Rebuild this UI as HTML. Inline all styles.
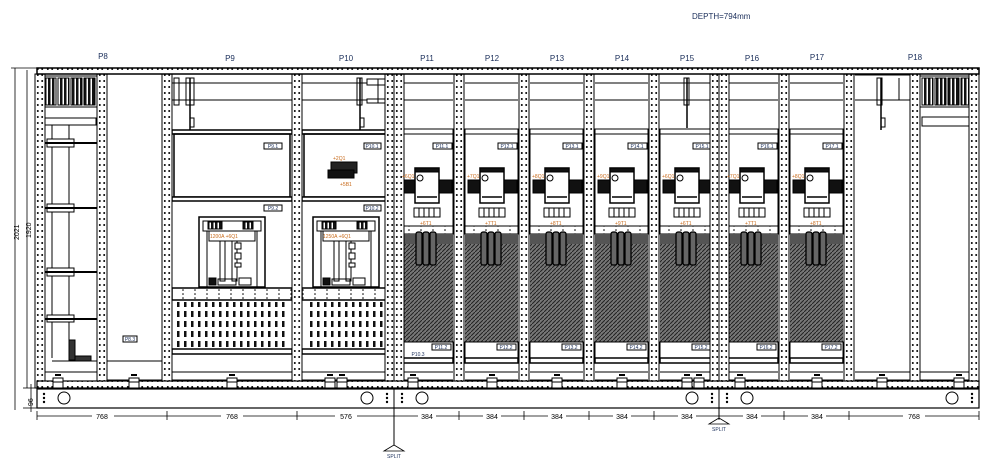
<!DOCTYPE html>
<html><head><meta charset="utf-8"><style>
html,body{margin:0;padding:0;background:#fff;width:991px;height:469px;overflow:hidden}
svg{display:block}
text{font-family:"Liberation Sans",sans-serif}
.lb{font-size:8px;fill:#1a2e5a}
.sm{font-size:5px;fill:#1a2e5a}
.or{font-size:5px;fill:#c86a1a}
</style></head><body>
<svg width="991" height="469" viewBox="0 0 991 469" xmlns="http://www.w3.org/2000/svg">
<defs>
<pattern id="pd" width="10" height="6" patternUnits="userSpaceOnUse"><rect width="10" height="6" fill="#fff"/><circle cx="2.2" cy="3" r="1" fill="#000"/><circle cx="7.8" cy="3" r="1" fill="#000"/></pattern>
<pattern id="hd" width="4" height="4" patternUnits="userSpaceOnUse"><rect width="4" height="4" fill="#777"/><path d="M0 4L4 0" stroke="#222" stroke-width="1"/></pattern>
<pattern id="fan" width="4" height="4" patternUnits="userSpaceOnUse"><rect width="4" height="4" fill="#fff"/><rect width="2.5" height="4" fill="#111"/></pattern>
<pattern id="perf" width="7" height="10" patternUnits="userSpaceOnUse"><rect width="7" height="10" fill="#fff"/><rect x="2" y="1" width="2.5" height="6" fill="#111"/></pattern>
<pattern id="tb" width="12" height="4" patternUnits="userSpaceOnUse"><rect width="12" height="4" fill="#fff"/><circle cx="3" cy="2" r="0.8" fill="#000"/></pattern>
<g id="post"><rect x="-5" y="74" width="10" height="314" fill="url(#pd)" stroke="#000" stroke-width="1"/></g>
<g id="foot"><rect x="-5" y="378" width="10" height="10" fill="#fff" stroke="#000"/><line x1="-5" y1="382" x2="5" y2="382" stroke="#000"/><rect x="-3" y="374" width="6" height="2" fill="#000"/></g>
<g id="sec" fill="none" stroke="#000" stroke-width="1">
<line x1="6" y1="83" x2="59" y2="83"/><line x1="6" y1="100" x2="59" y2="100"/>
<rect x="6" y="129" width="53" height="5" fill="#fff"/>
<rect x="6" y="134" width="53" height="92"/>
<rect x="39" y="143" width="19" height="6" fill="#fff"/>
<rect x="9" y="180" width="12" height="13" fill="#111"/><rect x="45" y="180" width="13" height="13" fill="#111"/>
<rect x="21" y="168" width="24" height="35" fill="#fff" stroke-width="1.5"/>
<rect x="21" y="168" width="24" height="4" fill="#111"/>
<circle cx="26" cy="178" r="3" fill="#fff"/>
<line x1="23" y1="197" x2="43" y2="197" stroke-width="1.5"/>
<rect x="20" y="208" width="26" height="9" fill="#fff"/>
<line x1="25" y1="208" x2="25" y2="217"/><line x1="30" y1="208" x2="30" y2="217"/><line x1="35" y1="208" x2="35" y2="217"/><line x1="40" y1="208" x2="40" y2="217"/>
<rect x="6" y="226" width="53" height="8" fill="url(#tb)"/>
<rect x="6" y="234" width="53" height="108" fill="url(#hd)" stroke="none"/>
<rect x="6" y="234" width="53" height="10" fill="#555" stroke="none"/>
<rect x="22" y="232" width="6" height="33" rx="2" fill="#666" stroke-width="1.3"/>
<rect x="29" y="232" width="6" height="33" rx="2" fill="#666" stroke-width="1.3"/>
<rect x="36" y="232" width="6" height="33" rx="2" fill="#666" stroke-width="1.3"/>
<rect x="6" y="342" width="53" height="16" fill="#fff"/>
<rect x="38" y="344" width="19" height="6" fill="#fff"/>
<rect x="6" y="358" width="53" height="5" fill="#fff" stroke-width="1.5"/>
<line x1="6" y1="372" x2="59" y2="372"/><line x1="6" y1="380" x2="59" y2="380"/>
</g>
<g id="brk" fill="none" stroke="#000">
<rect x="0" y="0" width="66" height="70" fill="#fff" stroke-width="1.5"/>
<rect x="4" y="4" width="58" height="10" fill="#fff"/>
<rect x="9" y="5" width="14" height="7" fill="url(#fan)"/><rect x="44" y="5" width="10" height="7" fill="url(#fan)"/>
<rect x="10" y="14" width="46" height="10" fill="#fff"/>
<line x1="8" y1="14" x2="8" y2="70"/><line x1="58" y1="14" x2="58" y2="70"/>
<rect x="21" y="24" width="5" height="40"/><rect x="33" y="24" width="5" height="40"/>
<rect x="36" y="26" width="6" height="6" fill="#fff"/><rect x="36" y="36" width="6" height="6" fill="#fff"/><rect x="36" y="46" width="6" height="4" fill="#fff"/>
<rect x="10" y="61" width="7" height="7" fill="#111"/><rect x="19" y="62" width="18" height="6"/><rect x="40" y="61" width="12" height="7" fill="#fff"/>
</g>
</defs>

<text x="692" y="19" style="font-size:8px;fill:#1a2e5a">DEPTH=794mm</text>
<g class="lb" text-anchor="middle">
<text x="103" y="59">P8</text><text x="230" y="61">P9</text><text x="346" y="61">P10</text>
<text x="427" y="61">P11</text><text x="492" y="61">P12</text><text x="557" y="61">P13</text>
<text x="622" y="61">P14</text><text x="687" y="61">P15</text><text x="752" y="61">P16</text>
<text x="817" y="60">P17</text><text x="915" y="60">P18</text>
</g>

<!-- left dims -->
<g stroke="#000" fill="none" stroke-width="0.8">
<line x1="15" y1="68" x2="15" y2="410"/><line x1="27" y1="70" x2="27" y2="388"/>
<line x1="11" y1="68" x2="37" y2="68"/><line x1="23" y1="388" x2="37" y2="388"/><line x1="23" y1="408" x2="37" y2="408"/>
<line x1="31" y1="384" x2="31" y2="412"/>
</g>
<text transform="translate(19,240) rotate(-90)" style="font-size:7px">2021</text>
<text transform="translate(31,238) rotate(-90)" style="font-size:7px">1920</text>
<text transform="translate(33,406) rotate(-90)" style="font-size:7px">96</text>

<!-- sections 384 -->
<use href="#sec" x="394"/><use href="#sec" x="459"/><use href="#sec" x="524"/><use href="#sec" x="589"/><use href="#sec" x="654"/><use href="#sec" x="719"/><use href="#sec" x="784"/>

<!-- P9 / P10 -->
<g fill="none" stroke="#000">
<line x1="172" y1="83" x2="292" y2="83"/><line x1="172" y1="100" x2="292" y2="100"/>
<line x1="302" y1="83" x2="390" y2="83"/><line x1="302" y1="100" x2="390" y2="100"/>
<rect x="172" y="130" width="120" height="4" fill="#fff" stroke-width="1.5"/><rect x="302" y="130" width="88" height="4" fill="#fff" stroke-width="1.5"/>
<rect x="174" y="134" width="116" height="63" stroke-width="1.5"/><rect x="304" y="134" width="84" height="63" stroke-width="1.5"/>
<rect x="172" y="197" width="120" height="4" fill="#fff" stroke-width="1.5"/><rect x="302" y="197" width="88" height="4" fill="#fff" stroke-width="1.5"/>
<rect x="264" y="143" width="18" height="6" fill="#fff"/><rect x="364" y="143" width="17" height="6" fill="#fff"/>
<rect x="264" y="205" width="18" height="6" fill="#fff"/><rect x="364" y="205" width="17" height="6" fill="#fff"/>
<rect x="172" y="288" width="120" height="12" fill="url(#tb)" stroke-width="1.5"/><rect x="302" y="288" width="88" height="12" fill="url(#tb)" stroke-width="1.5"/>
<rect x="176" y="302" width="112" height="46" fill="url(#perf)" stroke="none"/><rect x="306" y="302" width="80" height="46" fill="url(#perf)" stroke="none"/>
<rect x="172" y="349" width="120" height="5" fill="#fff" stroke-width="1.5"/><rect x="302" y="349" width="88" height="5" fill="#fff" stroke-width="1.5"/>
<line x1="172" y1="372" x2="292" y2="372"/><line x1="172" y1="380" x2="292" y2="380"/>
<line x1="302" y1="372" x2="390" y2="372"/><line x1="302" y1="380" x2="390" y2="380"/>
<!-- P9 top vertical -->
<rect x="174" y="78" width="5" height="27"/><rect x="186" y="78" width="8" height="27"/><line x1="190" y1="78" x2="190" y2="130" stroke-width="1.5"/><rect x="190" y="118" width="4" height="9"/>
<rect x="357" y="78" width="5" height="27"/><line x1="360" y1="78" x2="360" y2="130" stroke-width="1.5"/><rect x="360" y="118" width="4" height="9"/>
<rect x="367" y="79" width="22" height="6" fill="#fff"/><rect x="367" y="99" width="22" height="4" fill="#fff"/><line x1="378" y1="79" x2="378" y2="103"/>
<rect x="331" y="162" width="26" height="11" fill="#222"/>
<rect x="328" y="170" width="26" height="8" fill="#111"/>
</g>
<use href="#brk" x="199" y="217"/><use href="#brk" x="313" y="217"/>
<g class="or"><text x="210" y="238">1200A +6Q1</text><text x="323" y="238">1250A +6Q1</text><text x="333" y="160">+2Q1</text><text x="340" y="186">+5B1</text></g>

<!-- P8 -->
<g fill="none" stroke="#000">
<rect x="43" y="76" width="54" height="31" fill="#fff"/>
<rect x="45" y="78" width="11" height="27" fill="url(#fan)"/><rect x="58" y="78" width="11" height="27" fill="url(#fan)"/><rect x="71" y="78" width="11" height="27" fill="url(#fan)"/><rect x="84" y="78" width="11" height="27" fill="url(#fan)"/>
<rect x="44" y="118" width="52" height="7" fill="#fff"/>
<line x1="52" y1="125" x2="52" y2="358"/><line x1="69" y1="125" x2="69" y2="358"/>
<rect x="47" y="139" width="27" height="8" fill="#fff"/><line x1="43" y1="143" x2="97" y2="143" stroke-width="2"/>
<rect x="47" y="204" width="27" height="8" fill="#fff"/><line x1="43" y1="208" x2="97" y2="208" stroke-width="2"/>
<rect x="47" y="268" width="27" height="8" fill="#fff"/><line x1="43" y1="272" x2="97" y2="272" stroke-width="2"/>
<rect x="47" y="315" width="27" height="7" fill="#fff"/><line x1="43" y1="319" x2="97" y2="319" stroke-width="2"/>
<line x1="52" y1="361" x2="97" y2="361"/>
<rect x="69" y="340" width="6" height="20" fill="#333"/><rect x="75" y="356" width="16" height="5" fill="#333"/>
<line x1="107" y1="361" x2="162" y2="361"/><line x1="107" y1="380" x2="162" y2="380"/><line x1="43" y1="372" x2="97" y2="372"/>
<rect x="123" y="336" width="14" height="6" fill="#fff"/>
<!-- P18 -->
<rect x="920" y="76" width="56" height="31" fill="#fff"/>
<rect x="922" y="78" width="11" height="27" fill="url(#fan)"/><rect x="935" y="78" width="11" height="27" fill="url(#fan)"/><rect x="948" y="78" width="11" height="27" fill="url(#fan)"/><rect x="961" y="78" width="11" height="27" fill="url(#fan)"/>
<rect x="922" y="117" width="52" height="9" fill="#fff"/>
<line x1="855" y1="75" x2="910" y2="75"/><line x1="855" y1="100" x2="910" y2="100"/>
<rect x="877" y="78" width="5" height="27"/><line x1="881" y1="78" x2="881" y2="130" stroke-width="1.5"/><rect x="881" y="118" width="4" height="9"/>
<line x1="899" y1="78" x2="899" y2="100"/>
<line x1="855" y1="372" x2="910" y2="372"/><line x1="855" y1="380" x2="910" y2="380"/>
<line x1="920" y1="372" x2="975" y2="372"/><line x1="920" y1="380" x2="975" y2="380"/>
<rect x="684" y="78" width="5" height="27"/><line x1="687" y1="78" x2="687" y2="128" stroke-width="1.5"/>
</g>

<!-- posts -->
<use href="#post" x="40"/><use href="#post" x="102"/><use href="#post" x="167"/><use href="#post" x="297"/>
<use href="#post" x="390"/><use href="#post" x="399"/>
<use href="#post" x="459"/><use href="#post" x="524"/><use href="#post" x="589"/><use href="#post" x="654"/>
<use href="#post" x="715"/><use href="#post" x="724"/><use href="#post" x="784"/><use href="#post" x="849"/><use href="#post" x="915"/><use href="#post" x="974"/>

<!-- top frame -->
<rect x="37" y="68" width="942" height="6" fill="url(#pd)" stroke="#000" stroke-width="1.5"/>
<rect x="37" y="381" width="942" height="7" fill="url(#pd)" stroke="#000" stroke-width="1.2"/>

<!-- feet -->
<use href="#foot" x="58"/><use href="#foot" x="134"/><use href="#foot" x="232"/><use href="#foot" x="330"/><use href="#foot" x="342"/>
<use href="#foot" x="413"/><use href="#foot" x="492"/><use href="#foot" x="557"/><use href="#foot" x="622"/><use href="#foot" x="687"/><use href="#foot" x="699"/><use href="#foot" x="740"/><use href="#foot" x="817"/><use href="#foot" x="882"/><use href="#foot" x="959"/>

<!-- base -->
<g fill="none" stroke="#000">
<rect x="37" y="389" width="942" height="19" stroke-width="1.2"/>
<line x1="394" y1="389" x2="394" y2="445"/><line x1="719" y1="389" x2="719" y2="418"/>
<circle cx="64" cy="398" r="6"/><circle cx="367" cy="398" r="6"/><circle cx="422" cy="398" r="6"/><circle cx="692" cy="398" r="6"/><circle cx="747" cy="398" r="6"/><circle cx="952" cy="398" r="6"/>
</g>
<g fill="#000"><circle cx="44" cy="394" r="1.2"/><circle cx="44" cy="398" r="1.2"/><circle cx="44" cy="402" r="1.2"/><circle cx="387" cy="394" r="1.2"/><circle cx="387" cy="398" r="1.2"/><circle cx="387" cy="402" r="1.2"/><circle cx="402" cy="394" r="1.2"/><circle cx="402" cy="398" r="1.2"/><circle cx="402" cy="402" r="1.2"/><circle cx="712" cy="394" r="1.2"/><circle cx="712" cy="398" r="1.2"/><circle cx="712" cy="402" r="1.2"/><circle cx="727" cy="394" r="1.2"/><circle cx="727" cy="398" r="1.2"/><circle cx="727" cy="402" r="1.2"/><circle cx="972" cy="394" r="1.2"/><circle cx="972" cy="398" r="1.2"/><circle cx="972" cy="402" r="1.2"/></g>

<!-- bottom dims -->
<g stroke="#000" stroke-width="0.8" fill="none">
<line x1="37" y1="416" x2="979" y2="416"/>
<line x1="37" y1="411" x2="37" y2="420"/><line x1="167" y1="411" x2="167" y2="420"/><line x1="297" y1="411" x2="297" y2="420"/><line x1="394" y1="411" x2="394" y2="420"/><line x1="459" y1="411" x2="459" y2="420"/><line x1="524" y1="411" x2="524" y2="420"/><line x1="589" y1="411" x2="589" y2="420"/><line x1="654" y1="411" x2="654" y2="420"/><line x1="719" y1="411" x2="719" y2="420"/><line x1="784" y1="411" x2="784" y2="420"/><line x1="849" y1="411" x2="849" y2="420"/><line x1="979" y1="411" x2="979" y2="420"/>
<path d="M384 451L394 445L404 451Z"/><path d="M709 424L719 418L729 424Z"/>
</g>
<g style="font-size:7px" text-anchor="middle">
<rect x="92" y="412" width="22" height="8" fill="#fff"/><text x="102" y="419">768</text>
<rect x="221" y="412" width="22" height="8" fill="#fff"/><text x="232" y="419">768</text>
<rect x="335" y="412" width="22" height="8" fill="#fff"/><text x="346" y="419">576</text>
<rect x="418" y="412" width="18" height="8" fill="#fff"/><text x="427" y="419">384</text>
<rect x="483" y="412" width="18" height="8" fill="#fff"/><text x="492" y="419">384</text>
<rect x="548" y="412" width="18" height="8" fill="#fff"/><text x="557" y="419">384</text>
<rect x="613" y="412" width="18" height="8" fill="#fff"/><text x="622" y="419">384</text>
<rect x="678" y="412" width="18" height="8" fill="#fff"/><text x="687" y="419">384</text>
<rect x="743" y="412" width="18" height="8" fill="#fff"/><text x="752" y="419">384</text>
<rect x="808" y="412" width="18" height="8" fill="#fff"/><text x="817" y="419">384</text>
<rect x="903" y="412" width="22" height="8" fill="#fff"/><text x="914" y="419">768</text>
</g>
<g style="font-size:5px;fill:#1a2e5a" text-anchor="middle"><text x="394" y="458">SPLIT</text><text x="719" y="431">SPLIT</text></g>

<!-- panel labels -->
<g class="sm" text-anchor="middle">
<text x="273" y="148">P9.1</text><text x="273" y="210">P9.2</text><text x="372" y="148">P10.1</text><text x="372" y="210">P10.2</text><text x="130" y="341">P8.3</text>
<text x="442" y="148">P11.1</text><text x="507" y="148">P12.1</text><text x="572" y="148">P13.1</text><text x="637" y="148">P14.1</text><text x="702" y="148">P15.1</text><text x="767" y="148">P16.1</text><text x="832" y="148">P17.1</text>
<text x="441" y="349">P11.2</text><text x="506" y="349">P12.2</text><text x="571" y="349">P13.2</text><text x="636" y="349">P14.2</text><text x="701" y="349">P15.2</text><text x="766" y="349">P16.2</text><text x="831" y="349">P17.2</text>
<text x="418" y="356">P10.3</text>
</g>
<g class="or">
<text x="402" y="178">+6Q1</text><text x="467" y="178">+7Q1</text><text x="532" y="178">+8Q1</text><text x="597" y="178">+9Q1</text><text x="662" y="178">+6Q1</text><text x="727" y="178">+7Q1</text><text x="792" y="178">+8Q1</text>
<text x="420" y="225">+6T1</text><text x="485" y="225">+7T1</text><text x="550" y="225">+8T1</text><text x="615" y="225">+9T1</text><text x="680" y="225">+6T1</text><text x="745" y="225">+7T1</text><text x="810" y="225">+8T1</text>
</g>
</svg>
</body></html>
